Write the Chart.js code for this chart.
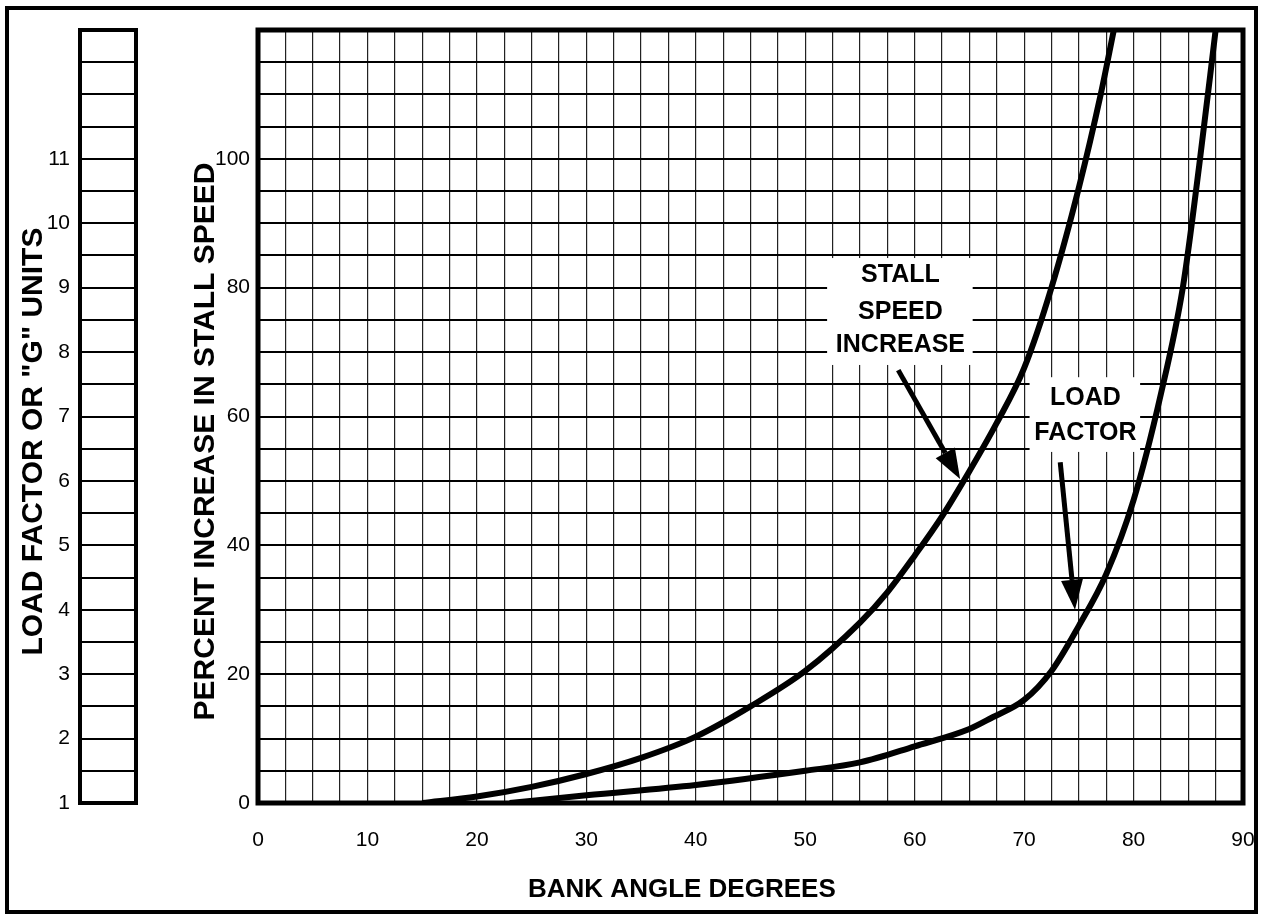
<!DOCTYPE html>
<html>
<head>
<meta charset="utf-8">
<script src="https://cdn.jsdelivr.net/npm/chart.js@4.4.1/dist/chart.umd.min.js"></script>
<style>
  html, body { margin: 0; padding: 0; background: #fff; }
  body { width: 1262px; height: 920px; position: relative; overflow: hidden; }
  .frame { position: absolute; left: 5px; top: 6px; width: 1245px; height: 900px; border: 4px solid #000; }
  canvas { position: absolute; top: 0; }
  #gScale { left: 0; }
  #stallChart { left: 186px; }
</style>
</head>
<body>
<div class="frame"></div>
<canvas id="gScale" width="140" height="920"></canvas>
<canvas id="stallChart" width="1076" height="920"></canvas>
<script>
// bank angle (deg) vs percent increase in stall speed
const stallAngle = [15, 20, 25, 30, 35, 40, 45, 50, 55, 57.5, 60, 62.5, 65, 67.5, 70, 72.5, 75, 77, 78.2];
const stallIncrease = [0, 1, 2.5, 4.5, 7, 10.3, 15, 20.5, 28, 32.7, 38.4, 44.5, 51.5, 59, 67.5, 80, 95.5, 110, 120];

// bank angle (deg) vs load factor in G units (read on the left scale)
const loadAngle = [23, 30, 40, 50, 55, 60, 65, 67, 70, 72.5, 75, 77.5, 80, 82.5, 84.5, 86, 87.5];
const loadFactor = [1, 1.12, 1.28, 1.5, 1.63, 1.88, 2.15, 2.32, 2.6, 3.05, 3.75, 4.55, 5.7, 7.35, 9, 10.9, 13];

const FONT = '"Liberation Sans", Arial, Helvetica, sans-serif';
Chart.defaults.font.family = FONT;
Chart.defaults.color = '#000';

// thick box round the plot area
const framePlugin = {
  id: 'frame',
  afterDraw(chart, args, opts) {
    const { ctx, chartArea: a } = chart;
    ctx.save();
    ctx.lineWidth = opts.width || 4;
    ctx.strokeStyle = '#000';
    ctx.strokeRect(a.left, a.top, a.right - a.left, a.bottom - a.top);
    ctx.restore();
  }
};

function arrow(ctx, x0, y0, x1, y1, headLen, headW) {
  const ang = Math.atan2(y1 - y0, x1 - x0);
  const bx = x1 - Math.cos(ang) * headLen;
  const by = y1 - Math.sin(ang) * headLen;
  ctx.beginPath();
  ctx.moveTo(x0, y0);
  ctx.lineTo(bx, by);
  ctx.stroke();
  const nx = -Math.sin(ang) * headW / 2;
  const ny = Math.cos(ang) * headW / 2;
  ctx.beginPath();
  ctx.moveTo(x1, y1);
  ctx.lineTo(bx + nx, by + ny);
  ctx.lineTo(bx - nx, by - ny);
  ctx.closePath();
  ctx.fill();
}

// labelled arrows pointing at the two curves
const notesPlugin = {
  id: 'notes',
  beforeDatasetsDraw(chart, args, opts) {
    const { ctx, scales: { x, y } } = chart;
    ctx.save();
    ctx.fillStyle = '#fff';
    opts.items.forEach(n => {
      const l = x.getPixelForValue(n.box[0]), r = x.getPixelForValue(n.box[2]);
      const t = y.getPixelForValue(n.box[1]), b = y.getPixelForValue(n.box[3]);
      ctx.fillRect(l, t, r - l, b - t);
    });
    ctx.restore();
  },
  afterDatasetsDraw(chart, args, opts) {
    const { ctx, scales: { x, y } } = chart;
    ctx.save();
    ctx.fillStyle = '#000';
    ctx.strokeStyle = '#000';
    ctx.font = 'bold 25px ' + FONT;
    ctx.textAlign = 'center';
    ctx.textBaseline = 'middle';
    opts.items.forEach(n => {
      n.lines.forEach((txt, i) => {
        ctx.fillText(txt, x.getPixelForValue(n.textX), y.getPixelForValue(n.lineY[i]));
      });
      ctx.lineWidth = 5;
      ctx.lineCap = 'butt';
      arrow(ctx,
        x.getPixelForValue(n.tail[0]), y.getPixelForValue(n.tail[1]),
        x.getPixelForValue(n.tip[0]), y.getPixelForValue(n.tip[1]), 30, 22);
    });
    ctx.restore();
  }
};

const tickFont = { size: 21 };
const sideTitleFont = { size: 30, weight: 'bold' };
const baseTitleFont = { size: 26, weight: 'bold' };

// trailing blanks push a centred title off the middle, like the hand-set labels of the original
const pad = n => ' '.repeat(n);

// left strip: load factor scale
new Chart(document.getElementById('gScale'), {
  type: 'line',
  data: { datasets: [] },
  options: {
    responsive: false,
    animation: false,
    layout: { padding: { left: 0, top: 30, right: 4, bottom: 117 } },
    plugins: { legend: { display: false }, tooltip: { enabled: false }, frame: { width: 4 } },
    scales: {
      x: { type: 'linear', display: false, min: 0, max: 1 },
      g: {
        type: 'linear',
        axis: 'y',
        position: 'left',
        min: 1,
        max: 13,
        ticks: {
          stepSize: 0.5,
          autoSkip: false,
          padding: 10,
          font: tickFont,
          callback: v => (Number.isInteger(v) && v <= 11) ? String(v) : ''
        },
        grid: { drawTicks: false, color: '#000', lineWidth: 2 },
        border: { display: false },
        title: { display: true, text: 'LOAD FACTOR OR "G" UNITS' + pad(6), font: sideTitleFont, padding: { top: 16, bottom: 0 } },
        afterFit: s => { s.width = 80; }
      }
    }
  },
  plugins: [framePlugin]
});

// main grid: stall speed increase and load factor vs bank angle
new Chart(document.getElementById('stallChart'), {
  type: 'line',
  data: {
    datasets: [
      {
        label: 'Stall speed increase',
        data: stallAngle.map((a, i) => ({ x: a, y: stallIncrease[i] })),
        yAxisID: 'y',
        borderColor: '#000',
        borderWidth: 6,
        pointRadius: 0,
        cubicInterpolationMode: 'monotone'
      },
      {
        label: 'Load factor',
        data: loadAngle.map((a, i) => ({ x: a, y: loadFactor[i] })),
        yAxisID: 'g',
        borderColor: '#000',
        borderWidth: 6,
        pointRadius: 0,
        cubicInterpolationMode: 'monotone'
      }
    ]
  },
  options: {
    responsive: false,
    animation: false,
    layout: { padding: { left: 0, top: 30, right: 19, bottom: 11 } },
    plugins: {
      legend: { display: false },
      tooltip: { enabled: false },
      frame: { width: 5 },
      notes: {
        items: [
          {
            lines: ['STALL', 'SPEED', 'INCREASE'],
            box: [52.0, 84.6, 65.3, 68.0],
            textX: 58.7,
            lineY: [82.0, 76.2, 71.1],
            tail: [58.5, 67.2],
            tip: [64.15, 50.3]
          },
          {
            lines: ['LOAD', 'FACTOR'],
            box: [70.5, 66.1, 80.6, 54.5],
            textX: 75.6,
            lineY: [62.9, 57.4],
            tail: [73.3, 52.9],
            tip: [74.65, 30.0]
          }
        ]
      }
    },
    scales: {
      x: {
        type: 'linear',
        min: 0,
        max: 90,
        ticks: {
          stepSize: 2.5,
          autoSkip: false,
          maxRotation: 0,
          padding: 0,
          font: tickFont,
          callback: v => v % 10 === 0 ? String(v) : ''
        },
        grid: { drawTicks: true, tickLength: 25, tickColor: 'rgba(0,0,0,0)', color: '#222', lineWidth: 1.2 },
        border: { display: false },
        title: { display: true, text: 'BANK ANGLE DEGREES' + pad(19), font: baseTitleFont, padding: { top: 0, bottom: 4 } },
        afterFit: s => { s.height = 106; }
      },
      y: {
        type: 'linear',
        min: 0,
        max: 120,
        ticks: {
          stepSize: 5,
          autoSkip: false,
          padding: 8,
          font: tickFont,
          callback: v => (v % 20 === 0 && v < 120) ? String(v) : ''
        },
        grid: { drawTicks: false, color: '#000', lineWidth: 2 },
        border: { display: false },
        title: { display: true, text: 'PERCENT INCREASE IN STALL SPEED' + pad(6), font: sideTitleFont, padding: { top: 2, bottom: 0 } },
        afterFit: s => { s.width = 72; }
      },
      g: { type: 'linear', axis: 'y', display: false, min: 1, max: 13 }
    }
  },
  plugins: [framePlugin, notesPlugin]
});
</script>
</body>
</html>
